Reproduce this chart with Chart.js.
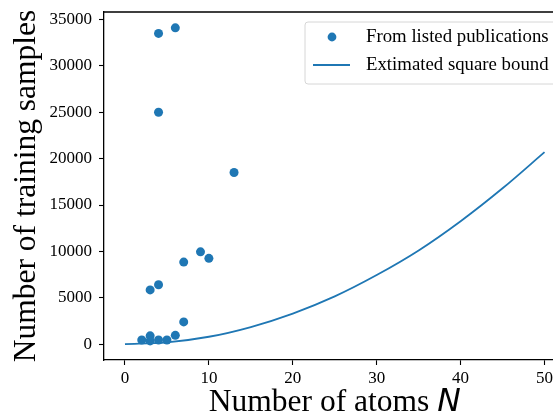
<!DOCTYPE html>
<html>
<head>
<meta charset="utf-8">
<script src="https://cdn.jsdelivr.net/npm/chart.js@4"></script>
<style>
html, body { margin: 0; padding: 0; overflow: hidden; background: #fff; }
#wrap { width: 570px; height: 415px; }
</style>
</head>
<body>
<div id="wrap"><canvas id="chart" width="570" height="415"></canvas></div>
<script>
// points
var pubAtoms   = [4, 6, 4, 13, 3, 4, 7, 9, 10, 7, 6, 2, 3, 3, 4, 5];
var pubSamples = [33500, 34100, 25000, 18500, 5850, 6400, 8850, 9950, 9250, 2400, 950, 450, 900, 350, 450, 450];

// estimated square bound, read at every 5 atoms
var boundAtoms   = [0, 5, 10, 15, 20, 25, 30, 35, 40, 45, 50];
var boundSamples = [0, 200, 800, 1850, 3300, 5150, 7450, 10100, 13250, 16800, 20700];

var xTicks = [0, 10, 20, 30, 40, 50];
var yTicks = [0, 5000, 10000, 15000, 20000, 25000, 30000, 35000];

var pubLabel = 'From listed publications';
var boundLabel = 'Extimated square bound';
var xTitle = 'Number of atoms ';
var xTitleVar = 'N';
var yTitle = 'Number of training samples';

var blue = '#1f77b4';
var serif = '"Liberation Serif", "Times New Roman", serif';

function toPoints(xs, ys) {
  return xs.map(function (x, i) { return { x: x, y: ys[i] }; });
}

var extras = {
  id: 'extras',
  afterDraw: function (chart) {
    var c = chart.ctx, a = chart.chartArea;
    c.save();
    // top / right spines
    c.strokeStyle = '#000';
    c.lineWidth = 1.3;
    c.beginPath();
    c.moveTo(a.left, a.top);
    c.lineTo(a.right, a.top);
    c.lineTo(a.right, a.bottom);
    c.stroke();

    // legend box
    var lx = 305, ly = 22, lw = 254, lh = 62, r = 3;
    c.beginPath();
    c.moveTo(lx + r, ly);
    c.arcTo(lx + lw, ly, lx + lw, ly + lh, r);
    c.arcTo(lx + lw, ly + lh, lx, ly + lh, r);
    c.arcTo(lx, ly + lh, lx, ly, r);
    c.arcTo(lx, ly, lx + lw, ly, r);
    c.closePath();
    c.fillStyle = 'rgba(255,255,255,0.8)';
    c.fill();
    c.strokeStyle = '#d6d6d6';
    c.lineWidth = 1;
    c.stroke();

    c.fillStyle = blue;
    c.beginPath();
    c.arc(332, 37, 4.4, 0, Math.PI * 2);
    c.fill();
    c.strokeStyle = blue;
    c.lineWidth = 1.8;
    c.beginPath();
    c.moveTo(313, 65);
    c.lineTo(350, 65);
    c.stroke();

    c.fillStyle = '#000';
    c.font = '18.8px ' + serif;
    c.textAlign = 'left';
    c.textBaseline = 'middle';
    c.fillText(pubLabel, 366, 37);
    c.fillText(boundLabel, 366, 65);

    // x title with italic N
    c.textBaseline = 'alphabetic';
    c.font = '31.5px ' + serif;
    var w1 = c.measureText(xTitle).width;
    var italic = 'italic 31.5px "DejaVu Sans", sans-serif';
    c.font = italic;
    var w2 = c.measureText(xTitleVar).width;
    var x0 = (a.left + a.right) / 2 - (w1 + w2) / 2;
    c.font = '31.5px ' + serif;
    c.fillText(xTitle, x0, 411);
    c.font = italic;
    c.fillText(xTitleVar, x0 + w1, 411);

    // y title
    c.font = '31.5px ' + serif;
    c.translate(35, (a.top + a.bottom) / 2);
    c.rotate(-Math.PI / 2);
    c.textAlign = 'center';
    c.fillText(yTitle, 0, 0);
    c.restore();
  }
};

var axisStyle = {
  grid: { drawOnChartArea: false, drawTicks: true, tickLength: 5, tickColor: '#000', tickWidth: 1.1 },
  border: { display: true, color: '#000', width: 1.3 }
};

function plain(v) { return String(v); }

var ctx = document.getElementById('chart').getContext('2d');
var chart = new Chart(ctx, {
  type: 'scatter',
  data: {
    datasets: [{
      label: pubLabel,
      data: toPoints(pubAtoms, pubSamples),
      backgroundColor: blue,
      borderWidth: 0,
      pointRadius: 4.5,
      pointHoverRadius: 4.5
    }, {
      label: boundLabel,
      data: toPoints(boundAtoms, boundSamples),
      showLine: true,
      borderColor: blue,
      borderWidth: 1.8,
      pointRadius: 0,
      fill: false,
      cubicInterpolationMode: 'monotone'
    }]
  },
  options: {
    responsive: false,
    animation: false,
    layout: { padding: { top: 12, right: 4, left: 0, bottom: 0 } },
    plugins: { legend: { display: false }, tooltip: { enabled: false } },
    scales: {
      x: {
        type: 'linear', min: -2.5, max: 52.5,
        afterBuildTicks: function (s) { s.ticks = xTicks.map(function (v) { return { value: v }; }); },
        afterFit: function (s) { s.height = 55; s.paddingLeft = 0; s.paddingRight = 0; },
        ticks: { color: '#000', font: { family: serif, size: 17 }, padding: 3, maxRotation: 0, autoSkip: false, callback: plain },
        grid: axisStyle.grid, border: axisStyle.border
      },
      y: {
        type: 'linear', min: -1705, max: 35805,
        afterBuildTicks: function (s) { s.ticks = yTicks.map(function (v) { return { value: v }; }); },
        afterFit: function (s) { s.width = 104; s.paddingTop = 0; s.paddingBottom = 0; },
        ticks: { color: '#000', font: { family: serif, size: 17 }, padding: 7, autoSkip: false, callback: plain },
        grid: axisStyle.grid, border: axisStyle.border
      }
    }
  },
  plugins: [extras]
});
</script>
</body>
</html>
